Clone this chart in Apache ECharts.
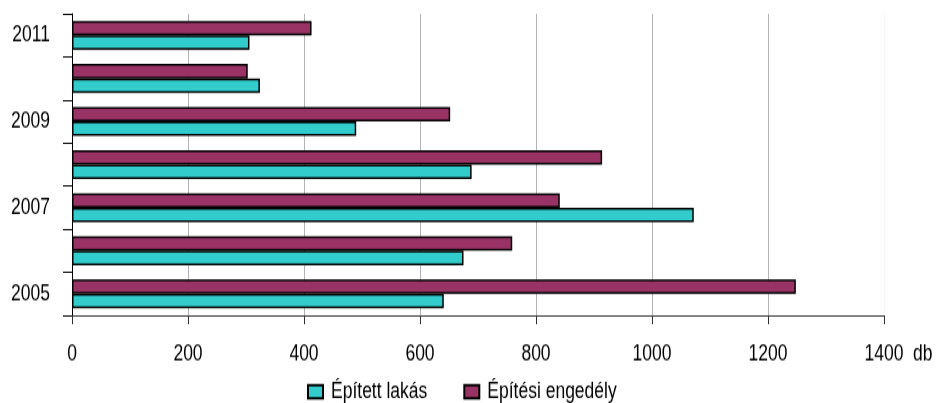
<!DOCTYPE html>
<html>
<head>
<meta charset="utf-8">
<script src="https://cdn.jsdelivr.net/npm/echarts@6/dist/echarts.min.js"></script>
<style>
html,body{margin:0;padding:0;background:#fff;overflow:hidden;}
#wrap{width:936px;height:403px;overflow:hidden;}
#chart{width:936px;height:322px;transform:scaleY(1.2516);transform-origin:0 0;}
</style>
</head>
<body>
<div id="wrap"><div id="chart"></div></div>
<script>
var years = ['2005', '2006', '2007', '2008', '2009', '2010', '2011'];
var epitettLakas = [641, 675, 1072, 689, 490, 324, 306];
var epitesiEngedely = [1248, 759, 841, 914, 652, 303, 413];
var xTicks = [0, 200, 400, 600, 800, 1000, 1200, 1400];
var seriesNames = ['Épített lakás', 'Építési engedély'];
var unitLabel = 'db';

var FONT = "'Liberation Sans', Arial, sans-serif";

var chart = echarts.init(document.getElementById('chart'), null, {renderer: 'canvas'});
chart.setOption({
  animation: false,
  backgroundColor: '#ffffff',
  grid: {left: 72, right: 52, top: 11, bottom: 70, containLabel: false, outerBoundsMode: 'none'},
  legend: {
    data: seriesNames,
    top: 299,
    left: 302,
    itemWidth: 15,
    itemHeight: 10.6,
    itemGap: 36,
    icon: 'rect',
    textStyle: {fontFamily: FONT, fontSize: 17.5, color: '#000', padding: [0, 0, 0, 3]}
  },
  xAxis: {
    type: 'value',
    min: xTicks[0],
    max: xTicks[xTicks.length - 1],
    interval: xTicks[1] - xTicks[0],
    name: unitLabel,
    nameLocation: 'end',
    nameGap: 29,
    nameTextStyle: {fontFamily: FONT, fontSize: 17.5, color: '#000', verticalAlign: 'top', padding: [22, 0, 0, 0]},
    axisLine: {show: true, lineStyle: {color: '#333', width: 1}},
    axisTick: {show: true, length: 7, lineStyle: {color: '#333'}},
    axisLabel: {fontFamily: FONT, fontSize: 17.5, color: '#000', margin: 22, formatter: function (v) { return String(v); }},
    splitLine: {show: true, lineStyle: {color: ['#b4b4b4', '#b4b4b4', '#b4b4b4', '#b4b4b4', '#b4b4b4', '#b4b4b4', '#b4b4b4', '#f6f6f6'], width: 1}}
  },
  yAxis: {
    type: 'category',
    data: years,
    axisLine: {show: true, lineStyle: {color: '#000', width: 1}},
    axisTick: {show: true, length: 9, interval: 0, lineStyle: {color: '#000'}},
    axisLabel: {fontFamily: FONT, fontSize: 17.5, color: '#000', margin: 22, interval: 1},
    splitLine: {show: false}
  },
  series: [
    {
      name: seriesNames[1],
      type: 'bar',
      data: epitesiEngedely,
      barGap: '0%',
      barCategoryGap: '33%',
      itemStyle: {color: '#993366', borderColor: '#000', borderWidth: 1.5}
    },
    {
      name: seriesNames[0],
      type: 'bar',
      data: epitettLakas,
      barGap: '0%',
      barCategoryGap: '33%',
      itemStyle: {color: '#33CCCC', borderColor: '#000', borderWidth: 1.5}
    }
  ]
});
</script>
</body>
</html>
